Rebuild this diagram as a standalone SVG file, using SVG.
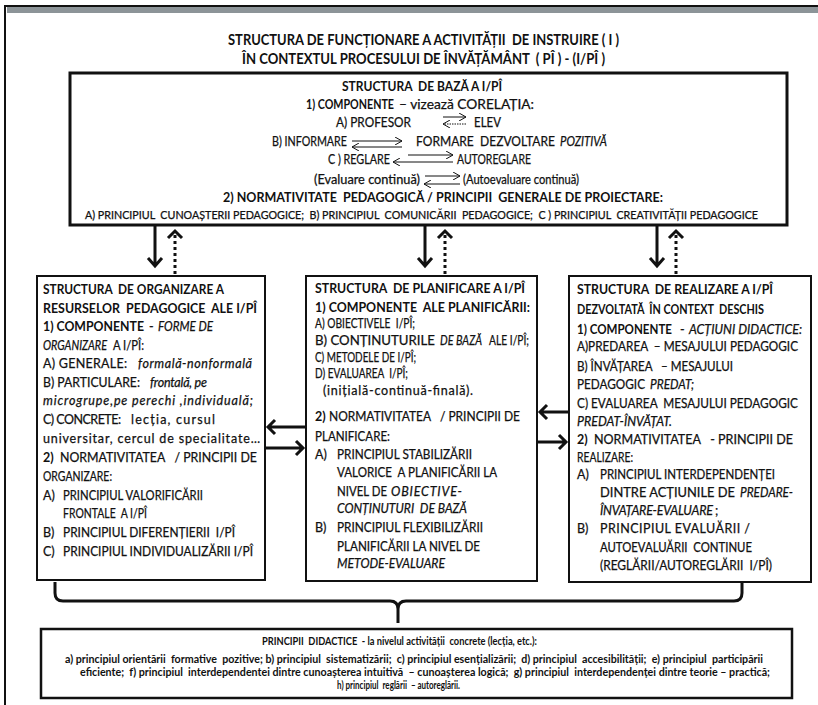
<svg xmlns="http://www.w3.org/2000/svg" width="818" height="705" viewBox="0 0 818 705">
  <defs>
    <style>
      .t { font-family: Lato, "Liberation Sans", Arial, sans-serif; font-size: 12.5px; fill: #111; stroke: #111; stroke-width: 0.25px; }
      .b { font-weight: bold; stroke-width: 0; }
      .i { font-style: italic; }
      .ttl { font-family: Lato, "Liberation Sans", Arial, sans-serif; font-size: 15px; font-weight: bold; fill: #111; }
      .sm { font-size: 10.5px; }
      .box { fill: #fff; stroke: #111; }
      .thin { fill: none; stroke: #111; stroke-width: 1; }
      .thick { fill: none; stroke: #111; stroke-width: 3; }
      .dots { fill: none; stroke: #111; stroke-width: 3; stroke-dasharray: 3 3; }
      text { white-space: pre; }
    </style>
    <marker id="hd" viewBox="0 0 8 8" refX="7" refY="4" markerWidth="8" markerHeight="8" markerUnits="userSpaceOnUse" orient="auto">
      <path d="M0,0 L7,4 L0,8" fill="none" stroke="#111" stroke-width="1"/>
    </marker>
  </defs>

  <!-- page frame -->
  <rect x="0" y="0" width="818" height="705" fill="#fff"/>
  <rect x="7" y="7" width="811" height="6" fill="#8c9498"/>
  <path d="M5,705 V6 H818" fill="none" stroke="#111" stroke-width="2"/>

  <!-- title -->
  <g id="title">
    <text class="ttl" x="228" y="45" textLength="391" lengthAdjust="spacingAndGlyphs">STRUCTURA DE FUNCȚIONARE A ACTIVITĂȚII  DE INSTRUIRE ( I )</text>
    <text class="ttl" x="242" y="64" textLength="363" lengthAdjust="spacingAndGlyphs">ÎN CONTEXTUL PROCESULUI DE ÎNVĂȚĂMÂNT  ( PÎ ) - (I/PÎ )</text>
  </g>

  <!-- base structure -->
  <g id="baza">
    <rect class="box" x="70" y="73" width="717" height="152" stroke-width="3"/>
    <text class="t b" x="342" y="91" textLength="160" lengthAdjust="spacingAndGlyphs">STRUCTURA  DE BAZĂ A I/PÎ</text>
    <text class="t b" x="306" y="109" textLength="88" lengthAdjust="spacingAndGlyphs">1) COMPONENTE</text>
    <text class="t" x="399" y="109" textLength="135" lengthAdjust="spacingAndGlyphs">– vizează CORELAȚIA:</text>
    <text class="t" x="336" y="127" textLength="75" lengthAdjust="spacingAndGlyphs">A) PROFESOR</text>
    <text class="t" x="474" y="127" textLength="27" lengthAdjust="spacingAndGlyphs">ELEV</text>
    <text class="t" x="272" y="146" textLength="75" lengthAdjust="spacingAndGlyphs">B) INFORMARE</text>
    <text class="t" x="416" y="146" textLength="139" lengthAdjust="spacingAndGlyphs">FORMARE  DEZVOLTARE</text>
    <text class="t i" x="560" y="146" textLength="47" lengthAdjust="spacingAndGlyphs">POZITIVĂ</text>
    <text class="t" x="328" y="164" textLength="62" lengthAdjust="spacingAndGlyphs">C ) REGLARE</text>
    <text class="t" x="457" y="164" textLength="74" lengthAdjust="spacingAndGlyphs">AUTOREGLARE</text>
    <text class="t" x="314" y="184" textLength="106" lengthAdjust="spacingAndGlyphs">(Evaluare continuă)</text>
    <text class="t" x="463" y="184" textLength="116" lengthAdjust="spacingAndGlyphs">(Autoevaluare continuă)</text>
    <text class="t b" x="223" y="202" textLength="440" lengthAdjust="spacingAndGlyphs">2) NORMATIVITATE  PEDAGOGICĂ / PRINCIPII  GENERALE DE PROIECTARE:</text>
    <text class="t sm" x="85" y="219" textLength="673" lengthAdjust="spacingAndGlyphs">A) PRINCIPIUL  CUNOAȘTERII PEDAGOGICE;  B) PRINCIPIUL  COMUNICĂRII  PEDAGOGICE;  C ) PRINCIPIUL  CREATIVITĂȚII PEDAGOGICE</text>
    <!-- correlation arrows -->
    <path class="thin" d="M443,117 H466" marker-end="url(#hd)"/>
    <path class="thin" d="M466,124 H443" stroke-dasharray="1.5 1" marker-end="url(#hd)"/>
    <path class="thin" d="M352,141 H402" marker-end="url(#hd)"/>
    <path class="thin" d="M402,147 H352" marker-end="url(#hd)"/>
    <path class="thin" d="M408,155 H453" marker-end="url(#hd)"/>
    <path class="thin" d="M453,162 H393" marker-end="url(#hd)"/>
    <path class="thin" d="M425,176 H460" marker-end="url(#hd)"/>
    <path class="thin" d="M460,184 H424" marker-end="url(#hd)"/>
  </g>

  <!-- organisation structure -->
  <g id="organizare">
    <rect class="box" x="37" y="276" width="228" height="304" stroke-width="2"/>
    <text class="t b" x="43" y="294" textLength="181" lengthAdjust="spacingAndGlyphs">STRUCTURA  DE ORGANIZARE A</text>
    <text class="t b" x="43" y="313" textLength="214" lengthAdjust="spacingAndGlyphs">RESURSELOR  PEDAGOGICE  ALE I/PÎ</text>
    <text class="t b" x="43" y="331" textLength="101" lengthAdjust="spacingAndGlyphs">1) COMPONENTE</text>
    <text class="t" x="149" y="331">-</text>
    <text class="t i" x="158" y="331" textLength="55" lengthAdjust="spacingAndGlyphs">FORME DE</text>
    <text class="t i" x="43" y="350" textLength="64" lengthAdjust="spacingAndGlyphs">ORGANIZARE</text>
    <text class="t" x="113" y="350" textLength="31" lengthAdjust="spacingAndGlyphs">A I/PÎ:</text>
    <text class="t" x="43" y="368" textLength="84" lengthAdjust="spacing">A) GENERALE:</text>
    <text class="t i" x="138" y="368" textLength="114" lengthAdjust="spacing">formală-nonformală</text>
    <text class="t" x="43" y="387" textLength="97" lengthAdjust="spacingAndGlyphs">B) PARTICULARE:</text>
    <text class="t i" x="150" y="387" textLength="57" lengthAdjust="spacing">frontală, pe</text>
    <text class="t i" x="43" y="405" textLength="210" lengthAdjust="spacing">microgrupe,pe perechi ,individuală;</text>
    <text class="t" x="43" y="424" textLength="78" lengthAdjust="spacing">C) CONCRETE:</text>
    <text class="t" x="131" y="424" textLength="84" lengthAdjust="spacing">lecția, cursul</text>
    <text class="t" x="43" y="443" textLength="217" lengthAdjust="spacing">universitar, cercul de specialitate…</text>
    <text class="t b" x="43" y="462">2)</text>
    <text class="t" x="60" y="462" textLength="197" lengthAdjust="spacingAndGlyphs">NORMATIVITATEA   / PRINCIPII DE</text>
    <text class="t" x="43" y="481" textLength="69" lengthAdjust="spacingAndGlyphs">ORGANIZARE:</text>
    <text class="t" x="43" y="500">A)</text>
    <text class="t" x="63" y="500" textLength="140" lengthAdjust="spacingAndGlyphs">PRINCIPIUL VALORIFICĂRII</text>
    <text class="t" x="63" y="518" textLength="84" lengthAdjust="spacingAndGlyphs">FRONTALE  A I/PÎ</text>
    <text class="t" x="43" y="537">B)</text>
    <text class="t" x="63" y="537" textLength="172" lengthAdjust="spacingAndGlyphs">PRINCIPIUL DIFERENȚIERII  I/PÎ</text>
    <text class="t" x="43" y="556">C)</text>
    <text class="t" x="63" y="556" textLength="190" lengthAdjust="spacingAndGlyphs">PRINCIPIUL INDIVIDUALIZĂRII I/PÎ</text>
  </g>

  <!-- planning structure -->
  <g id="planificare">
    <rect class="box" x="306" y="276" width="231" height="305" stroke-width="2"/>
    <text class="t b" x="315" y="293" textLength="210" lengthAdjust="spacingAndGlyphs">STRUCTURA  DE PLANIFICARE A I/PÎ</text>
    <text class="t b" x="315" y="312" textLength="215" lengthAdjust="spacingAndGlyphs">1) COMPONENTE  ALE PLANIFICĂRII:</text>
    <text class="t" x="315" y="328" textLength="100" lengthAdjust="spacingAndGlyphs">A) OBIECTIVELE  I/PÎ;</text>
    <text class="t" x="315" y="345" textLength="120" lengthAdjust="spacingAndGlyphs">B) CONȚINUTURILE</text>
    <text class="t i" x="440" y="345" textLength="42" lengthAdjust="spacingAndGlyphs">DE BAZĂ</text>
    <text class="t" x="489" y="345" textLength="40" lengthAdjust="spacingAndGlyphs">ALE I/PÎ;</text>
    <text class="t" x="315" y="362" textLength="101" lengthAdjust="spacingAndGlyphs">C) METODELE DE I/PÎ;</text>
    <text class="t" x="315" y="378" textLength="93" lengthAdjust="spacingAndGlyphs">D) EVALUAREA  I/PÎ;</text>
    <text class="t" x="323" y="395" textLength="150" lengthAdjust="spacing">(inițială-continuă-finală).</text>
    <text class="t b" x="315" y="421">2)</text>
    <text class="t" x="329" y="421" textLength="191" lengthAdjust="spacingAndGlyphs">NORMATIVITATEA   / PRINCIPII DE</text>
    <text class="t" x="315" y="441" textLength="75" lengthAdjust="spacingAndGlyphs">PLANIFICARE:</text>
    <text class="t" x="315" y="459">A)</text>
    <text class="t" x="337" y="459" textLength="135" lengthAdjust="spacingAndGlyphs">PRINCIPIUL STABILIZĂRII</text>
    <text class="t" x="337" y="477" textLength="160" lengthAdjust="spacingAndGlyphs">VALORICE  A PLANIFICĂRII LA</text>
    <text class="t" x="337" y="496" textLength="50" lengthAdjust="spacingAndGlyphs">NIVEL DE</text>
    <text class="t i" x="391" y="496" textLength="71" lengthAdjust="spacing">OBIECTIVE-</text>
    <text class="t i" x="337" y="513" textLength="130" lengthAdjust="spacingAndGlyphs">CONȚINUTURI  DE BAZĂ</text>
    <text class="t" x="315" y="532">B)</text>
    <text class="t" x="337" y="532" textLength="146" lengthAdjust="spacingAndGlyphs">PRINCIPIUL FLEXIBILIZĂRII</text>
    <text class="t" x="337" y="551" textLength="143" lengthAdjust="spacingAndGlyphs">PLANIFICĂRII LA NIVEL DE</text>
    <text class="t i" x="337" y="568" textLength="108" lengthAdjust="spacingAndGlyphs">METODE-EVALUARE</text>
  </g>

  <!-- realisation structure -->
  <g id="realizare">
    <rect class="box" x="569" y="276" width="242" height="306" stroke-width="2"/>
    <text class="t b" x="577" y="294" textLength="196" lengthAdjust="spacingAndGlyphs">STRUCTURA  DE REALIZARE A I/PÎ</text>
    <text class="t b" x="577" y="314" textLength="187" lengthAdjust="spacingAndGlyphs">DEZVOLTATĂ  ÎN CONTEXT  DESCHIS</text>
    <text class="t b" x="577" y="334" textLength="95" lengthAdjust="spacingAndGlyphs">1) COMPONENTE</text>
    <text class="t" x="680" y="334">-</text>
    <text class="t i" x="689" y="334" textLength="113" lengthAdjust="spacingAndGlyphs">ACȚIUNI DIDACTICE:</text>
    <text class="t" x="577" y="351" textLength="221" lengthAdjust="spacingAndGlyphs">A)PREDAREA  – MESAJULUI PEDAGOGIC</text>
    <text class="t" x="577" y="371" textLength="156" lengthAdjust="spacingAndGlyphs">B) ÎNVĂȚAREA   – MESAJULUI</text>
    <text class="t" x="577" y="389" textLength="68" lengthAdjust="spacingAndGlyphs">PEDAGOGIC</text>
    <text class="t i" x="650" y="389" textLength="44" lengthAdjust="spacingAndGlyphs">PREDAT;</text>
    <text class="t" x="577" y="408" textLength="221" lengthAdjust="spacingAndGlyphs">C) EVALUAREA  MESAJULUI PEDAGOGIC</text>
    <text class="t i" x="577" y="426" textLength="95" lengthAdjust="spacingAndGlyphs">PREDAT-ÎNVĂȚAT.</text>
    <text class="t b" x="577" y="444">2)</text>
    <text class="t" x="594" y="444" textLength="199" lengthAdjust="spacingAndGlyphs">NORMATIVITATEA   - PRINCIPII DE</text>
    <text class="t" x="577" y="462" textLength="56" lengthAdjust="spacingAndGlyphs">REALIZARE:</text>
    <text class="t" x="577" y="479">A)</text>
    <text class="t" x="600" y="479" textLength="175" lengthAdjust="spacingAndGlyphs">PRINCIPIUL INTERDEPENDENȚEI</text>
    <text class="t" x="600" y="497" textLength="135" lengthAdjust="spacingAndGlyphs">DINTRE ACȚIUNILE DE</text>
    <text class="t i" x="740" y="497" textLength="53" lengthAdjust="spacingAndGlyphs">PREDARE-</text>
    <text class="t i" x="600" y="515" textLength="113" lengthAdjust="spacing">ÎNVAȚARE-EVALUARE</text>
    <text class="t" x="715" y="515">;</text>
    <text class="t" x="577" y="533">B)</text>
    <text class="t" x="600" y="533" textLength="150" lengthAdjust="spacing">PRINCIPIUL EVALUĂRII /</text>
    <text class="t" x="600" y="552" textLength="152" lengthAdjust="spacingAndGlyphs">AUTOEVALUĂRII  CONTINUE</text>
    <text class="t" x="600" y="570" textLength="172" lengthAdjust="spacingAndGlyphs">(REGLĂRII/AUTOREGLĂRII  I/PÎ)</text>
  </g>

  <!-- didactic principles -->
  <g id="principii">
    <rect class="box" x="41" y="629" width="751" height="69" stroke-width="2.5"/>
    <text class="t b sm" x="262" y="645" textLength="275" lengthAdjust="spacingAndGlyphs">PRINCIPII  DIDACTICE  - la nivelul activității  concrete (lecția, etc.):</text>
    <text class="t b sm" x="65" y="663" textLength="698" lengthAdjust="spacingAndGlyphs">a) principiul orientării  formative  pozitive; b) principiul  sistematizării;  c) principiul esențializării;  d) principiul  accesibilității;  e) principiul  participării</text>
    <text class="t b sm" x="80" y="676" textLength="690" lengthAdjust="spacingAndGlyphs">eficiente;  f) principiul  interdependentei dintre cunoașterea intuitivă  – cunoașterea logică;  g) principiul  interdependenței dintre teorie – practică;</text>
    <text class="t b sm" x="337" y="689" textLength="123" lengthAdjust="spacingAndGlyphs">h) principiul  reglării  – autoreglării.</text>
  </g>

  <!-- connectors -->
  <g id="connectors">
    <!-- base structure to the three structures -->
    <path class="thick" d="M155,226 V266 M148,258 L155,266 L162,258"/>
    <path class="dots" d="M175,274 V234"/>
    <path class="thick" d="M168,238 L175,231 L182,238"/>
    <path class="thick" d="M425,226 V266 M418,258 L425,266 L432,258"/>
    <path class="dots" d="M445,274 V234"/>
    <path class="thick" d="M438,238 L445,231 L452,238"/>
    <path class="thick" d="M657,226 V266 M650,258 L657,266 L664,258"/>
    <path class="dots" d="M676,274 V234"/>
    <path class="thick" d="M669,238 L676,231 L683,238"/>
    <!-- between the lower structures -->
    <path class="thick" d="M306,427 H268 M275,420 L268,427 L275,434"/>
    <path class="thick" d="M265,448 H303 M296,441 L303,448 L296,455"/>
    <path class="thick" d="M569,412 H540 M547,405 L540,412 L547,419"/>
    <path class="thick" d="M537,442 H566 M559,435 L566,442 L559,449"/>
    <!-- brace gathering the three structures -->
    <path class="thick" d="M55,582 V593 Q55,601 63,601 H390 Q398,601 398,609 V623 M398,609 Q398,601 406,601 H734 Q742,601 742,593 V582"/>
  </g>
</svg>
